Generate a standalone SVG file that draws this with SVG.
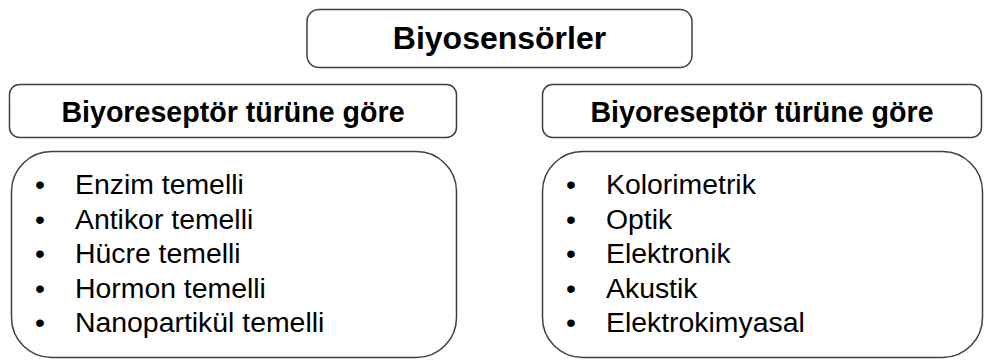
<svg xmlns="http://www.w3.org/2000/svg" width="984" height="361" viewBox="0 0 984 361">
<style>
.box{fill:#fff;stroke:#404040;stroke-width:1.5}
.t{font-family:"Liberation Sans",Arial,sans-serif;fill:#000}
.b{font-weight:bold}
.title{font-size:32px}
.hdr{font-size:28.6px}
.li{font-size:28.4px}
</style>
<rect width="984" height="361" fill="#fff"/>
<g id="root">
<rect class="box" x="307" y="9.5" width="385" height="58" rx="12"/>
<text class="t b title" x="499.5" y="49" text-anchor="middle">Biyosensörler</text>
</g>
<g id="left-header">
<rect class="box" x="9.5" y="84.5" width="447" height="53" rx="10"/>
<text class="t b hdr" x="233" y="122" text-anchor="middle">Biyoreseptör türüne göre</text>
</g>
<g id="right-header">
<rect class="box" x="542.5" y="84.5" width="439" height="53" rx="10"/>
<text class="t b hdr" x="762" y="122" text-anchor="middle">Biyoreseptör türüne göre</text>
</g>
<g id="left-list">
<rect class="box" x="11.5" y="151.5" width="445" height="206" rx="40"/>
<text class="t li" x="35" y="194">•</text><text class="t li" x="75" y="194">Enzim temelli</text>
<text class="t li" x="35" y="228.5">•</text><text class="t li" x="75" y="228.5">Antikor temelli</text>
<text class="t li" x="35" y="263">•</text><text class="t li" x="75" y="263">Hücre temelli</text>
<text class="t li" x="35" y="297.5">•</text><text class="t li" x="75" y="297.5">Hormon temelli</text>
<text class="t li" x="35" y="332">•</text><text class="t li" x="75" y="332">Nanopartikül temelli</text>
</g>
<g id="right-list">
<rect class="box" x="542.5" y="151.5" width="440" height="206" rx="40"/>
<text class="t li" x="566" y="194">•</text><text class="t li" x="606" y="194">Kolorimetrik</text>
<text class="t li" x="566" y="228.5">•</text><text class="t li" x="606" y="228.5">Optik</text>
<text class="t li" x="566" y="263">•</text><text class="t li" x="606" y="263">Elektronik</text>
<text class="t li" x="566" y="297.5">•</text><text class="t li" x="606" y="297.5">Akustik</text>
<text class="t li" x="566" y="332">•</text><text class="t li" x="606" y="332">Elektrokimyasal</text>
</g>
<g id="connectors"/>
</svg>
